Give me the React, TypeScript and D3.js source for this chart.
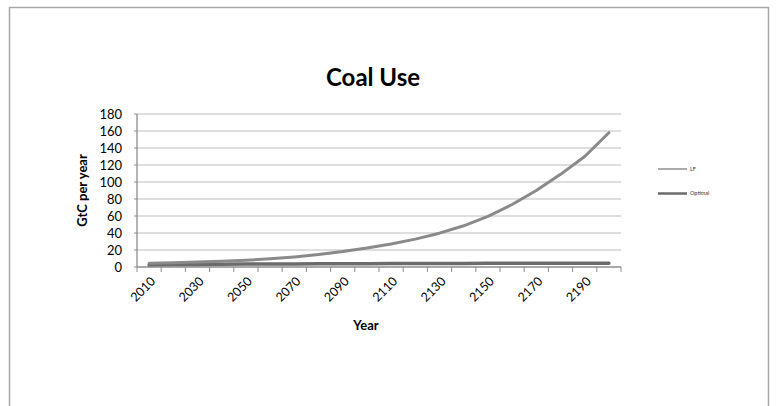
import React from "react";
import * as d3 from "d3";

// Decade categories on the x axis
const years: number[] = [
  2010, 2020, 2030, 2040, 2050, 2060, 2070, 2080, 2090, 2100,
  2110, 2120, 2130, 2140, 2150, 2160, 2170, 2180, 2190, 2200,
];

// Coal use, GtC per year
const lfValues: number[] = [
  4.5, 5.0, 5.8, 6.8, 8.0, 9.6, 11.8, 14.6, 18.3, 22.3,
  27.0, 32.8, 39.8, 48.5, 59.5, 73.5, 90.0, 109.0, 130.0, 158.0,
];
const optimalValues: number[] = [
  2.5, 2.8, 3.0, 3.2, 3.4, 3.5, 3.6, 3.7, 3.8, 3.9,
  4.0, 4.1, 4.2, 4.2, 4.3, 4.3, 4.4, 4.4, 4.5, 4.5,
];

const yTicks: number[] = [0, 20, 40, 60, 80, 100, 120, 140, 160, 180];
const xLabelYears: number[] = [2010, 2030, 2050, 2070, 2090, 2110, 2130, 2150, 2170, 2190];

const seriesNames = ["LF", "Optimal"];

const W = 777;
const H = 406;
const plot = { left: 137, right: 621, top: 114, bottom: 267 };
const FONT = "Lato, 'Open Sans', sans-serif";

export default function App() {
  const x = d3
    .scaleBand<number>()
    .domain(years)
    .range([plot.left, plot.right])
    .padding(0);
  const y = d3.scaleLinear().domain([0, 180]).range([plot.bottom, plot.top]);
  const cx = (yr: number) => (x(yr) as number) + x.bandwidth() / 2;

  const line = d3
    .line<number>()
    .x((_, i) => cx(years[i]))
    .y((v) => y(v));

  const boundaries = years.map((yr) => x(yr) as number).concat([plot.right]);

  return (
    <svg
      width={W}
      height={H}
      style={{ position: "absolute", left: 0, top: 0, background: "#fff" }}
      fontFamily={FONT}
    >
      {/* outer chart frame */}
      <path d={`M9.5,${H} V7.5 H768.5 V${H}`} fill="none" stroke="#a6a6a6" strokeWidth={1.5} />

      <text x={373} y={86} textAnchor="middle" fontSize={24} fontWeight={700} fill="#000">
        Coal Use
      </text>

      {/* horizontal gridlines */}
      {yTicks.filter((t) => t > 0).map((t) => (
        <line key={t} x1={plot.left} x2={plot.right} y1={y(t)} y2={y(t)} stroke="#bdbdbd" strokeWidth={1.2} />
      ))}

      {/* y axis */}
      <line x1={plot.left} x2={plot.left} y1={plot.top} y2={plot.bottom} stroke="#8c8c8c" strokeWidth={1.3} />
      {yTicks.map((t) => (
        <g key={t}>
          <line x1={plot.left - 3} x2={plot.left} y1={y(t)} y2={y(t)} stroke="#8c8c8c" />
          <text x={122} y={y(t)} dy="0.36em" textAnchor="end" fontSize={13} fill="#000">
            {t}
          </text>
        </g>
      ))}
      <text
        transform={`translate(86.5,${(plot.top + plot.bottom) / 2}) rotate(-90)`}
        textAnchor="middle"
        fontSize={13}
        fontWeight={700}
        fill="#000"
      >
        GtC per year
      </text>

      {/* x axis */}
      <line x1={plot.left} x2={plot.right} y1={plot.bottom} y2={plot.bottom} stroke="#8c8c8c" strokeWidth={1.3} />
      {boundaries.map((bx, i) => (
        <line key={i} x1={bx} x2={bx} y1={plot.bottom} y2={plot.bottom + 5} stroke="#8c8c8c" />
      ))}
      {xLabelYears.map((yr) => (
        <text
          key={yr}
          transform={`translate(${cx(yr) + 4},${plot.bottom + 12}) rotate(-45)`}
          textAnchor="end"
          dy="0.35em"
          fontSize={12.5}
          fill="#000"
        >
          {yr}
        </text>
      ))}
      <text x={366} y={330} textAnchor="middle" fontSize={13} fontWeight={700} fill="#000">
        Year
      </text>

      {/* series */}
      <path d={line(optimalValues) || ""} fill="none" stroke="#6b6b6b" strokeWidth={3.5} strokeLinecap="round" strokeLinejoin="round" />
      <path d={line(lfValues) || ""} fill="none" stroke="#8a8a8a" strokeWidth={3} strokeLinecap="round" strokeLinejoin="round" />

      {/* legend */}
      <line x1={658} x2={687} y1={169} y2={169} stroke="#8f8f8f" strokeWidth={1.5} />
      <text x={690} y={169} dy="0.35em" fontSize={5.5} fill="#333">
        {seriesNames[0]}
      </text>
      <line x1={658} x2={687} y1={193.5} y2={193.5} stroke="#6b6b6b" strokeWidth={2.5} />
      <text x={690} y={193.5} dy="0.35em" fontSize={5.5} fill="#333">
        {seriesNames[1]}
      </text>
    </svg>
  );
}
